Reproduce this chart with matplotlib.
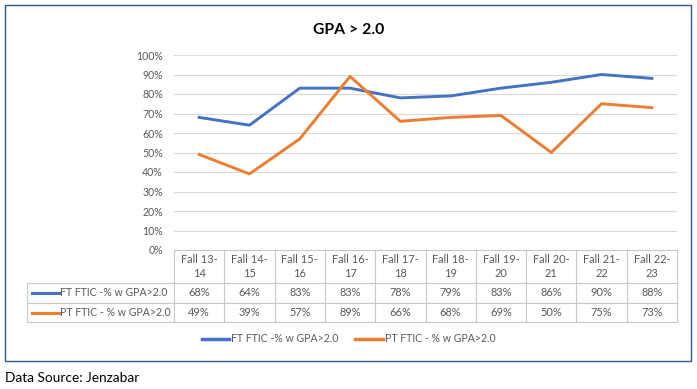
import matplotlib
matplotlib.use("Agg")
import matplotlib.pyplot as plt
from matplotlib.lines import Line2D
from matplotlib.patches import Rectangle
import matplotlib.transforms as mtransforms

plt.rcParams['font.family'] = ['Lato', 'DejaVu Sans']

categories = ["Fall 13-\n14", "Fall 14-\n15", "Fall 15-\n16", "Fall 16-\n17", "Fall 17-\n18",
              "Fall 18-\n19", "Fall 19-\n20", "Fall 20-\n21", "Fall 21-\n22", "Fall 22-\n23"]
ft_values = [68, 64, 83, 83, 78, 79, 83, 86, 90, 88]
pt_values = [49, 39, 57, 89, 66, 68, 69, 50, 75, 73]
series_names = ["FT FTIC -% w GPA>2.0", "PT FTIC - % w GPA>2.0"]
title = "GPA > 2.0"
source = "Data Source: Jenzabar"

BLUE = "#4472C4"
ORANGE = "#ED7D31"
TXT = "#595959"
GRID = "#D9D9D9"
BORDER = "#C8C8C8"

W, H = 697, 389
fig = plt.figure(figsize=(W / 100, H / 100), dpi=100)

def fx(px):
    return px / W

def fy(py):
    return 1 - py / H

# outer chart box
fig.patches.append(Rectangle((fx(4.5), fy(360.5)), fx(686), (355.5) / H, transform=fig.transFigure,
                             fill=False, edgecolor="#2F5597", linewidth=1.0))

ax_left, ax_right, ax_top, ax_bot = 174, 677, 55, 250
ax = fig.add_axes([fx(ax_left), fy(ax_bot), fx(ax_right - ax_left), (ax_bot - ax_top) / H])
n = len(categories)
xs = list(range(n))
ax.plot(xs, [v / 100 for v in ft_values], color=BLUE, linewidth=2.1, solid_joinstyle='round',
        label=series_names[0])
ax.plot(xs, [v / 100 for v in pt_values], color=ORANGE, linewidth=2.1, solid_joinstyle='round',
        label=series_names[1])
ax.set_xlim(-0.5, n - 0.5)
ax.set_ylim(0, 1.0)
ticks = [i / 10 for i in range(11)]
ax.set_yticks(ticks)
ax.set_yticklabels([f"{int(t * 100)}%" for t in ticks], color=TXT, fontsize=7.6)
ax.tick_params(axis='y', length=0, pad=8)
ax.set_xticks([])
for t in ticks[1:]:
    ax.axhline(t, color=GRID, linewidth=0.8, zorder=0)
for s in ax.spines.values():
    s.set_visible(False)

# title
fig.text(0.5, fy(30), title, ha='center', va='center', fontsize=11.3, fontweight='bold', color='black')

# data table
colw = (ax_right - ax_left) / n
label_left = 27
row_lines = [250, 283, 303, 322]
line_kw = dict(color=BORDER, linewidth=0.8, transform=fig.transFigure)
fig.lines.append(Line2D([fx(ax_left), fx(ax_right)], [fy(250), fy(250)], **line_kw))
for yy in row_lines[1:]:
    fig.lines.append(Line2D([fx(label_left), fx(ax_right)], [fy(yy), fy(yy)], **line_kw))
fig.lines.append(Line2D([fx(label_left), fx(label_left)], [fy(283), fy(322)], **line_kw))
for i in range(n + 1):
    xx = ax_left + i * colw
    fig.lines.append(Line2D([fx(xx), fx(xx)], [fy(250), fy(322)], **line_kw))

trans = mtransforms.blended_transform_factory(ax.transData, fig.transFigure)
for i, cat in enumerate(categories):
    fig.text(i, fy(266.5), cat, transform=trans, ha='center', va='center', fontsize=7.9,
             color=TXT, linespacing=1.3)
    fig.text(i, fy(293), f"{ft_values[i]}%", transform=trans, ha='center', va='center',
             fontsize=7.9, color=TXT)
    fig.text(i, fy(312.5), f"{pt_values[i]}%", transform=trans, ha='center', va='center',
             fontsize=7.9, color=TXT)

for name, col, yy in [(series_names[0], BLUE, 293), (series_names[1], ORANGE, 312.5)]:
    fig.lines.append(Line2D([fx(32), fx(59)], [fy(yy), fy(yy)], color=col, linewidth=2.2,
                            transform=fig.transFigure))
    fig.text(fx(59.5), fy(yy), name, ha='left', va='center', fontsize=7.6, color=TXT)

# legend
handles, labels = ax.get_legend_handles_labels()
leg = fig.legend(handles, labels, loc='center', bbox_to_anchor=(0.5, fy(339)), ncol=2,
                 frameon=False, fontsize=7.6, handlelength=2.6, handletextpad=0.2,
                 columnspacing=1.6, labelcolor=TXT)
for lh in leg.get_lines():
    lh.set_linewidth(2.5)

# source
fig.text(fx(5), fy(378), source, ha='left', va='center', fontsize=9.8, color='black')

fig.savefig("out.png", dpi=100)
